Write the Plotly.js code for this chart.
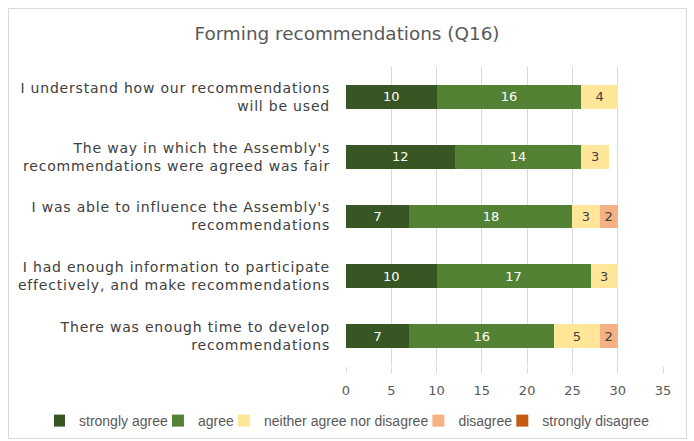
<!DOCTYPE html>
<html><head><meta charset="utf-8">
<script src="https://cdn.plot.ly/plotly-3.0.1.min.js"></script>
<style>html,body{margin:0;padding:0;background:#fff}#wrap{position:relative;width:694px;height:441px}#chart{width:694px;height:441px}#frame{position:absolute;left:8px;top:8px;width:677px;height:429px;border:1px solid #d9d9d9;pointer-events:none}
#chart .yaxislayer-above text{letter-spacing:0.8px}</style>
</head><body>
<div id="wrap"><div id="chart"></div><div id="frame"></div></div>
<script>
const categories = [
  "I understand how our recommendations<br>will be used",
  "The way in which the Assembly's<br>recommendations were agreed was fair",
  "I was able to influence the Assembly's<br>recommendations",
  "I had enough information to participate<br>effectively, and make recommendations",
  "There was enough time to develop<br>recommendations"
];
const seriesNames = ["strongly agree","agree","neither agree nor disagree","disagree","strongly disagree"];
const stronglyAgree = [10,12,7,10,7];
const agree = [16,14,18,17,16];
const neither = [4,3,3,3,5];
const disagree = [0,0,2,0,2];
const stronglyDisagree = [0,0,0,0,0];
const xTicks = [0,5,10,15,20,25,30,35];

const colors = ["#375623","#548235","#FFE699","#F4B183","#C55A11"];
const textColors = ["#ffffff","#ffffff","#404040","#404040","#404040"];
const allValues = [stronglyAgree, agree, neither, disagree, stronglyDisagree];

const traces = allValues.map((vals,i)=>({
  type:'bar', orientation:'h', name: seriesNames[i],
  y: categories, x: vals,
  marker:{color: colors[i]},
  text: vals.map(v=> v>0 ? String(v) : ''),
  textposition:'inside', insidetextanchor:'middle',
  textfont:{family:'DejaVu Sans', size:13, color:textColors[i]},
  constraintext:'none',
  hoverinfo:'none'
}));

const layout = {
  width:694, height:441,
  barmode:'stack', bargap:0.6,
  margin:{l:346, r:31, t:67, b:75, autoexpand:false},
  paper_bgcolor:'#ffffff', plot_bgcolor:'#ffffff',
  title:{text:'Forming recommendations (Q16)', x:0.5, xref:'container', xanchor:'center', y:1-34/441, yref:'container', yanchor:'middle',
    font:{family:'DejaVu Sans', size:18.4, color:'#595959'}},
  xaxis:{range:[0,35], tickvals:xTicks, showgrid:true, gridcolor:'#d9d9d9', gridwidth:1, zeroline:false,
    ticks:'outside', ticklen:6, tickcolor:'#d9d9d9', showline:false, ticklabelstandoff:6,
    tickfont:{family:'DejaVu Sans', size:13, color:'#595959'}, fixedrange:true},
  yaxis:{autorange:'reversed', showgrid:false, zeroline:false, ticks:'', ticklabelstandoff:15,
    tickfont:{family:'DejaVu Sans', size:14, color:'#404040'}, fixedrange:true},
  showlegend:true,
  legend:{orientation:'h', xref:'paper', x:(54-346)/299, xanchor:'left', yref:'paper', y:(366-421)/299, yanchor:'middle',
    font:{family:'Liberation Sans', size:14, color:'#595959'}, traceorder:'normal', itemwidth:30, indentation:-15},
  font:{family:'DejaVu Sans'}
};
layout.legend.x = (54-346)/317;
Plotly.newPlot('chart', traces, layout, {staticPlot:true, displayModeBar:false});
</script>
</body></html>
